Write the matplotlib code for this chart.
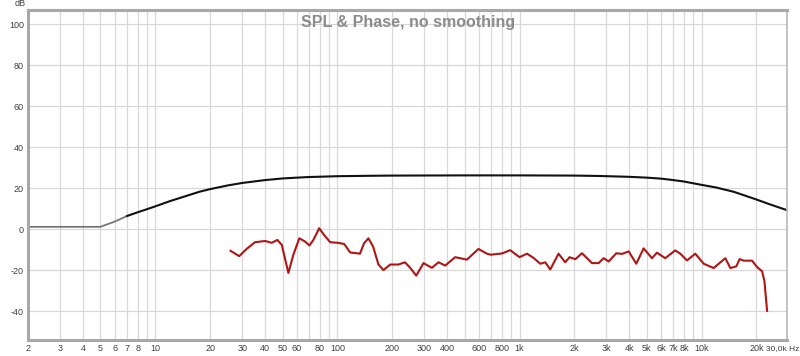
import numpy as np
import matplotlib.pyplot as plt

# black curve (target / model response)
target_freq = [2, 5, 6, 7, 8, 9, 10, 12, 14, 17.6, 20, 25, 30, 40, 50, 60, 70,
               100, 150, 200, 500, 1000, 2000, 2775, 4000, 5000, 6000, 7000,
               8000, 9820, 12000, 15000, 19600, 24000, 29500]
target_db = [1.2, 1.2, 3.8, 6.5, 8.3, 9.8, 11.2, 13.7, 15.6, 18.4, 19.6, 21.4,
             22.6, 24.0, 24.8, 25.2, 25.5, 25.9, 26.1, 26.2, 26.3, 26.3, 26.2,
             26.0, 25.6, 25.2, 24.7, 24.0, 23.3, 21.8, 20.4, 18.3, 14.8, 12.0,
             9.3]

# red curve (measured SPL)
spl_freq = [25.9, 28.9, 31.8, 35.3, 40.1, 43.6, 46.8, 49.5, 53.8, 57.3, 61.8,
            66.5, 70.2, 73.8, 79.4, 84.6, 91.2, 101, 109, 117.5, 133, 140, 148,
            157, 168, 179, 195, 216, 235, 251, 271, 297, 330, 359, 391, 443,
            514, 595, 662, 695, 800, 889, 1000, 1099, 1195, 1300, 1385, 1475,
            1638, 1782, 1883, 2024, 2203, 2500, 2718, 2895, 3085, 3400, 3657,
            3975, 4378, 4800, 5336, 5684, 6310, 7158, 7633, 8310, 9230, 10260,
            11640, 13490, 14380, 15500, 16170, 17010, 18920, 20150, 21480,
            22120, 22880]
spl_db = [-10.5, -13.1, -9.5, -6.3, -5.7, -6.6, -5.2, -7.6, -21.3, -12.4, -4.4,
          -6.0, -7.9, -5.2, 0.5, -2.8, -6.3, -6.6, -7.2, -11.3, -11.9, -6.8,
          -4.4, -8.4, -17.2, -19.9, -17.2, -17.2, -16.1, -18.8, -22.6, -16.5,
          -18.8, -16.1, -17.7, -13.6, -14.8, -9.6, -11.9, -12.4, -11.8, -10.2,
          -13.6, -11.9, -14.0, -16.8, -16.1, -19.6, -11.9, -16.1, -13.6, -14.6,
          -11.7, -16.5, -16.5, -14.1, -15.7, -11.7, -12.0, -10.8, -16.8, -9.3,
          -14.1, -11.4, -14.1, -10.3, -11.9, -15.2, -11.9, -16.8, -18.9, -14.1,
          -18.9, -18.1, -14.5, -15.3, -15.3, -18.4, -20.5, -25.3, -39.8]

grid_freqs = [2, 3, 4, 5, 6, 7, 8, 9, 10, 20, 30, 40, 50, 60, 70, 80, 90, 100,
              200, 300, 400, 500, 600, 700, 800, 900, 1000, 2000, 3000, 4000,
              5000, 6000, 7000, 8000, 9000, 10000, 20000]
grid_labels = ['2', '3', '4', '5', '6', '7', '8', '', '10', '20', '30', '40',
               '50', '60', '', '80', '', '100', '200', '300', '400', '', '600',
               '', '800', '', '1k', '2k', '3k', '4k', '5k', '6k', '7k', '8k',
               '', '10k', '20k']
db_ticks = [-40, -20, 0, 20, 40, 60, 80, 100]

fmax = 29500

plt.rcParams['font.family'] = ['Liberation Sans', 'DejaVu Sans']

fig = plt.figure(figsize=(8, 3.56), dpi=100)
ax = fig.add_axes([0.035, 0.045, 0.949, 0.927])

ax.set_xscale('log')
ax.set_xlim(2, fmax)
ax.set_ylim(-54, 107)

ax.set_xticks(grid_freqs)
ax.set_xticklabels(grid_labels)
ax.xaxis.set_minor_locator(plt.NullLocator())
ax.set_yticks(db_ticks)
ax.set_yticklabels([str(v) for v in db_ticks])
ax.tick_params(length=0, labelsize=6.5, colors='#404040', pad=3)
ax.grid(True, color='#d8d8d8', linewidth=0.9)
ax.set_axisbelow(True)

for side in ['left', 'top', 'bottom']:
    ax.spines[side].set_color('#a8a8a8')
    ax.spines[side].set_linewidth(2.2)
ax.spines['right'].set_color('#b8b8b8')
ax.spines['right'].set_linewidth(1.2)

# gray low end of the target curve, then black
tf = np.array(target_freq)
td = np.array(target_db)
lo = tf <= 7
hi = tf >= 7
ax.plot(tf[lo], td[lo], color='#777777', linewidth=1.3)
ax.plot(tf[hi], td[hi], color='#111111', linewidth=1.5)

ax.plot(spl_freq, spl_db, color='#b01515', linewidth=1.5)

ax.text(0.5, 0.985, 'SPL & Phase, no smoothing', transform=ax.transAxes,
        ha='center', va='top', fontsize=11.5, fontweight='bold', color='#8c8c8c')
fig.text(20 / 800, 1 - 4 / 356, 'dB', ha='center', va='center', fontsize=6.5,
         color='#404040')
fig.text(799 / 800, 1 - 349 / 356, '30,0k Hz', ha='right', va='center',
         fontsize=6, color='#404040')

fig.savefig('out.png', dpi=100)
